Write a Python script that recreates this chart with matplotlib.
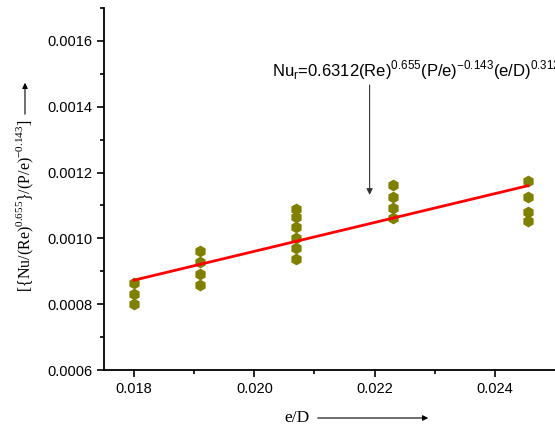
import numpy as np
import matplotlib
matplotlib.use("Agg")
import matplotlib.pyplot as plt

plt.rcParams['font.family'] = 'Liberation Sans'
plt.rcParams['mathtext.fontset'] = 'custom'
plt.rcParams['mathtext.rm'] = 'Liberation Serif'
plt.rcParams['mathtext.sf'] = 'Liberation Sans'

# measured points, grouped by e/D
eD = [0.018, 0.018, 0.018,
      0.0191, 0.0191, 0.0191, 0.0191,
      0.0207, 0.0207, 0.0207, 0.0207, 0.0207, 0.0207,
      0.0223, 0.0223, 0.0223, 0.0223,
      0.02455, 0.02455, 0.02455, 0.02455]
nu_group = [0.000864, 0.000830, 0.000800,
            0.000963, 0.000927, 0.000891, 0.000859,
            0.001089, 0.001066, 0.001036, 0.001000, 0.000970, 0.000938,
            0.001162, 0.001127, 0.001093, 0.001063,
            0.001175, 0.001127, 0.001081, 0.001054]
# fitted line
fit_x = [0.018, 0.02455]
fit_y = [0.000873, 0.001160]

fig = plt.figure(figsize=(5.55, 4.29), dpi=100)
ax = fig.add_axes([0.1874, 0.1375, 0.8126, 0.8439])

ax.plot(eD, nu_group, 'h', color='#808000', markersize=8.5, markeredgewidth=0, zorder=3)
ax.plot(fit_x, fit_y, color='#ff0000', linewidth=2, zorder=4)

ax.set_xlim(0.0175, 0.025)
ax.set_ylim(0.0006, 0.0017)
ax.set_xticks([0.018, 0.020, 0.022, 0.024])
ax.set_xticks([0.019, 0.021, 0.023], minor=True)
ax.set_xticklabels(['0.018', '0.020', '0.022', '0.024'])
ax.set_yticks([0.0006, 0.0008, 0.0010, 0.0012, 0.0014, 0.0016])
ax.set_yticks([0.0007, 0.0009, 0.0011, 0.0013, 0.0015, 0.0017], minor=True)
ax.set_yticklabels(['0.0006', '0.0008', '0.0010', '0.0012', '0.0014', '0.0016'])
ax.tick_params(which='major', direction='out', length=5, width=1.2, labelsize=10.5)
ax.tick_params(which='minor', direction='out', length=3, width=1.2)
for s in ['top', 'right']:
    ax.spines[s].set_visible(False)
for s in ['left', 'bottom']:
    ax.spines[s].set_linewidth(1.3)

# correlation annotation
ax.text(0.0203, 0.001491,
        r'Nu$_{\mathsf{r}}$=0.6312(Re)$^{\mathsf{0.655}}$(P/e)$^{\mathsf{-0.143}}$(e/D)$^{\mathsf{0.312}}$',
        fontsize=12, ha='left', va='baseline', clip_on=False)
ax.annotate('', xy=(0.021917, 0.001132), xytext=(0.021917, 0.001466),
            arrowprops=dict(arrowstyle='-|>', color='#333333', lw=0.8,
                            mutation_scale=9, shrinkA=0, shrinkB=0))

# axis labels with arrows
fig.text(25 / 555, 1 - 206 / 429,
         r'[{Nu/(Re)$^{0.655}$}/(P/e)$^{-0.143}$]',
         rotation=90, ha='center', va='center', fontsize=11.5, family='Liberation Serif')
fig.add_artist(matplotlib.patches.FancyArrowPatch(
    (25 / 555, 1 - 117 / 429), (25 / 555, 1 - 80 / 429), transform=fig.transFigure,
    arrowstyle='-|>', mutation_scale=8, color='black', lw=0.8))
fig.text(297 / 555, 1 - 418 / 429, 'e/D', ha='center', va='center',
         fontsize=12.5, family='Liberation Serif')
fig.add_artist(matplotlib.patches.FancyArrowPatch(
    (315 / 555, 1 - 418 / 429), (431 / 555, 1 - 418 / 429), transform=fig.transFigure,
    arrowstyle='-|>', mutation_scale=8, color='black', lw=0.8))

fig.savefig('out.png', dpi=100)
